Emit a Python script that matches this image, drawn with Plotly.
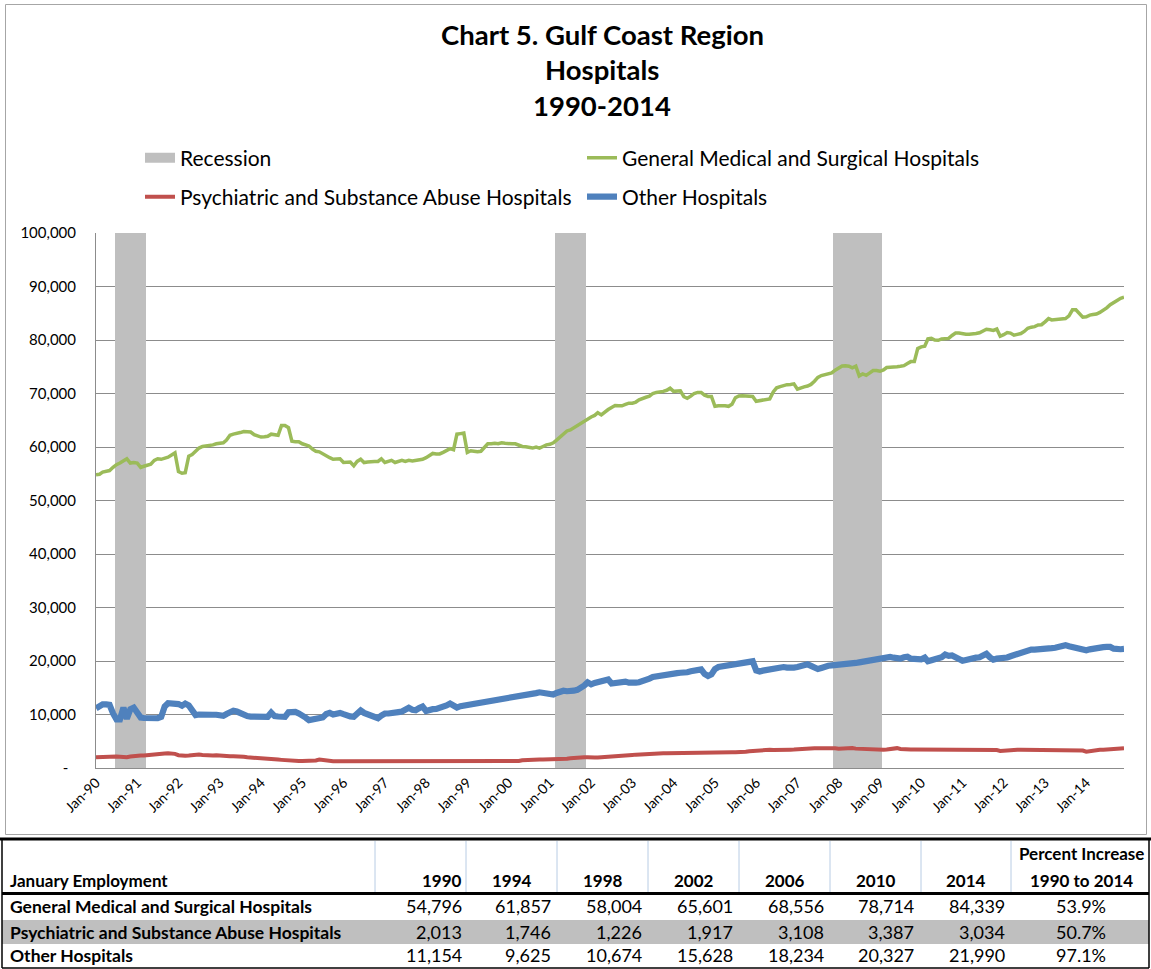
import pandas as pd
import plotly.graph_objects as go

W, H = 1151, 969

# ---------------- data ----------------
MONTHS = pd.date_range('1990-01-01', '2014-12-01', freq='MS')

GENERAL = [
    54796, 54900, 55300, 55400, 55600, 56200, 56700, 57000, 57400, 57800, 57000, 57100,  # 1990
    57000, 56200, 56400, 56600, 56800, 57500, 57800, 57700, 57900, 58100, 58500, 58900,  # 1991
    55400, 55100, 55200, 58300, 58600, 59200, 59800, 60100, 60200, 60200, 60400, 60600,  # 1992
    60700, 60800, 61300, 62200, 62400, 62500, 62700, 62900, 62900, 62800, 62300, 62100,  # 1993
    61857, 61900, 62000, 62400, 62300, 62200, 64000, 64000, 63600, 61100, 61000, 61000,  # 1994
    60600, 60300, 60200, 59600, 59200, 59100, 58700, 58300, 58000, 57700, 57800, 57800,  # 1995
    57100, 57100, 57200, 56500, 57300, 57700, 57100, 57200, 57300, 57300, 57300, 57800,  # 1996
    57100, 57400, 57500, 57100, 57300, 57500, 57300, 57500, 57400, 57500, 57500, 57700,  # 1997
    58004, 58400, 58800, 58700, 58700, 59000, 59300, 59700, 59500, 62400, 62500, 62600,  # 1998
    59000, 59300, 59200, 59100, 59200, 60000, 60600, 60600, 60700, 60600, 60800, 60700,  # 1999
    60600, 60600, 60600, 60300, 60100, 60050, 60000, 59800, 60000, 59800, 60100, 60400,  # 2000
    60500, 60800, 61300, 61900, 62500, 63000, 63200, 63600, 64000, 64400, 64900, 65300,  # 2001
    65601, 65900, 66400, 66000, 66600, 67000, 67400, 67750, 67700, 67700, 67950, 68200,  # 2002
    68200, 68400, 68800, 69100, 69300, 69500, 70000, 70200, 70250, 70400, 70600, 71000,  # 2003
    70400, 70400, 70500, 69400, 69100, 69500, 70000, 70200, 70200, 69700, 69450, 69450,  # 2004
    67600, 67700, 67770, 67700, 67600, 68000, 69200, 69550, 69600, 69550, 69450, 69450,  # 2005
    68556, 68700, 68880, 68950, 69000, 70300, 71060, 71300, 71550, 71650, 71700, 71800,  # 2006
    70800, 71100, 71250, 71400, 71700, 72300, 73000, 73350, 73500, 73700, 73850, 74350,  # 2007
    74800, 75150, 75200, 75100, 74800, 75100, 73300, 73670, 73400, 73800, 74300, 74300,  # 2008
    74150, 74400, 74850, 74900, 74900, 75000, 75080, 75200, 75600, 75960, 75960, 78400,  # 2009
    78714, 78850, 80200, 80300, 80000, 79950, 80190, 80190, 80300, 80850, 81300, 81300,  # 2010
    81100, 81060, 81060, 81060, 81200, 81350, 81600, 82000, 81900, 81800, 82050, 80700,  # 2011
    81000, 81400, 81300, 80900, 81050, 81200, 81600, 82200, 82400, 82500, 82800, 82860,  # 2012
    83400, 84000, 83750, 83780, 83790, 83820, 84000, 84500, 85650, 85650, 85000, 84250,  # 2013
    84339, 84660, 84750, 84850, 85150, 85500, 86000, 86600, 87100, 87400, 87800, 88000,  # 2014
]

PSYCH = [
    2013, 2050, 2100, 2140, 2140, 2140, 2140, 2100, 2050, 2010, 2150, 2250,  # 1990
    2300, 2320, 2350, 2380, 2400, 2450, 2550, 2640, 2700, 2770, 2750, 2640,  # 1991
    2400, 2260, 2300, 2330, 2400, 2520, 2500, 2450, 2400, 2260, 2350, 2390,  # 1992
    2300, 2200, 2200, 2200, 2200, 2200, 2200, 2100, 2010, 1980, 1950, 1900,  # 1993
    1746, 1760, 1760, 1700, 1620, 1570, 1520, 1450, 1380, 1340, 1320, 1320,  # 1994
    1320, 1320, 1320, 1320, 1400, 1570, 1450, 1350, 1260, 1260, 1260, 1260,  # 1995
    1260, 1260, 1260, 1260, 1260, 1260, 1260, 1260, 1260, 1260, 1260, 1260,  # 1996
    1250, 1250, 1250, 1250, 1250, 1250, 1250, 1250, 1250, 1250, 1250, 1250,  # 1997
    1226, 1230, 1240, 1240, 1240, 1240, 1250, 1250, 1250, 1250, 1250, 1250,  # 1998
    1250, 1250, 1250, 1250, 1250, 1250, 1250, 1250, 1250, 1250, 1250, 1250,  # 1999
    1260, 1260, 1270, 1300, 1450, 1510, 1540, 1560, 1570, 1570, 1570, 1570,  # 2000
    1570, 1570, 1570, 1580, 1650, 1720, 1820, 1900, 1950, 2010, 2010, 2000,  # 2001
    1917, 1950, 1980, 2010, 2050, 2080, 2120, 2160, 2200, 2260, 2320, 2400,  # 2002
    2450, 2500, 2550, 2600, 2640, 2680, 2700, 2720, 2740, 2760, 2770, 2770,  # 2003
    2780, 2790, 2800, 2810, 2820, 2830, 2840, 2850, 2860, 2870, 2890, 2850,  # 2004
    2900, 2890, 2870, 2890, 2920, 2950, 2960, 2960, 2980, 3050, 3150, 3220,  # 2005
    3108, 3300, 3350, 3400, 3400, 3350, 3330, 3350, 3400, 3420, 3430, 3440,  # 2006
    3450, 3460, 3480, 3550, 3620, 3680, 3710, 3740, 3770, 3770, 3770, 3700,  # 2007
    3600, 3650, 3720, 3770, 3720, 3620, 3590, 3590, 3560, 3500, 3400, 3300,  # 2008
    3330, 3400, 3450, 3550, 3650, 3710, 3550, 3460, 3460, 3460, 3460, 3460,  # 2009
    3387, 3420, 3420, 3420, 3420, 3420, 3420, 3420, 3420, 3420, 3420, 3420,  # 2010
    3420, 3420, 3420, 3420, 3420, 3420, 3420, 3420, 3420, 3420, 3350, 3200,  # 2011
    3250, 3420, 3420, 3420, 3420, 3420, 3420, 3420, 3420, 3420, 3420, 3420,  # 2012
    3420, 3420, 3420, 3420, 3420, 3420, 3420, 3420, 3420, 3420, 3350, 3250,  # 2013
    3034, 3150, 3300, 3400, 3420, 3430, 3440, 3450, 3500, 3580, 3650, 3700,  # 2014
]

OTHER = [
    11154, 11600, 11900, 11900, 11800, 10200, 9100, 9100, 11300, 9200, 11000, 11300,  # 1990
    10200, 9430, 9350, 9300, 9300, 9300, 9300, 9550, 11500, 12100, 12140, 12050,  # 1991
    11950, 11640, 12050, 11700, 10800, 9900, 10000, 10060, 10000, 9950, 9950, 9950,  # 1992
    9900, 9750, 10100, 10500, 10700, 10550, 10200, 9900, 9700, 9600, 9580, 9560,  # 1993
    9625, 9560, 9560, 10350, 9700, 9620, 9620, 9550, 10400, 10500, 10500, 10200,  # 1994
    9900, 9400, 8950, 9100, 9300, 9300, 9450, 10100, 10300, 10000, 10200, 10300,  # 1995
    10060, 9750, 9650, 9560, 10100, 10750, 10300, 10100, 9950, 9700, 9300, 9800,  # 1996
    10190, 10190, 10200, 10300, 10450, 10550, 10800, 11250, 10900, 10800, 11200, 11500,  # 1997
    10674, 11000, 11000, 11050, 11200, 11400, 11700, 12050, 11500, 11300, 11550, 11650,  # 1998
    11750, 11820, 11900, 12000, 12150, 12250, 12350, 12500, 12700, 12800, 12900, 12980,  # 1999
    13020, 13100, 13250, 13450, 13550, 13620, 13750, 13900, 14000, 14150, 14050, 13960,  # 2000
    13750, 13750, 14020, 14250, 14450, 14350, 14300, 14450, 14600, 14850, 15400, 16000,  # 2001
    15628, 15900, 16100, 16300, 16450, 16550, 15800, 15950, 16040, 16120, 16150, 15950,  # 2002
    15850, 15950, 16040, 16200, 16350, 16700, 17000, 17150, 17300, 17380, 17420, 17550,  # 2003
    17620, 17740, 17800, 17740, 17900, 18080, 18200, 18300, 18430, 17610, 17200, 17500,  # 2004
    18500, 18880, 18980, 19080, 19250, 19450, 19600, 19720, 19860, 19900, 19930, 19940,  # 2005
    18234, 18050, 18200, 18360, 18460, 18550, 18700, 18870, 18870, 18780, 18680, 18780,  # 2006
    18870, 18950, 19050, 19370, 19100, 18800, 18500, 18700, 19030, 19120, 19190, 19220,  # 2007
    19270, 19340, 19400, 19470, 19550, 19640, 19750, 19880, 20000, 20100, 20230, 20380,  # 2008
    20500, 20600, 20680, 20750, 20620, 20450, 20440, 20700, 20800, 20440, 20440, 20440,  # 2009
    20327, 20630, 19950, 20150, 20280, 20320, 20700, 21200, 20950, 21050, 20700, 20250,  # 2010
    20050, 20200, 20400, 20520, 20620, 20700, 20900, 21350, 20700, 20250, 20440, 20440,  # 2011
    20440, 20650, 20880, 21100, 21400, 21600, 21850, 22080, 22140, 22140, 22140, 22140,  # 2012
    22250, 22320, 22400, 22480, 22600, 22750, 22960, 22750, 22600, 22520, 22200, 22010,  # 2013
    21990, 22180, 22330, 22450, 22520, 22600, 22640, 22640, 22300, 22150, 22200, 22250,  # 2014
]

RECESSION_START = ['1990-07-01', '2001-03-01', '2007-12-01']
RECESSION_END = ['1991-03-01', '2001-11-01', '2009-01-01']
RECESSION_HEIGHT = 100000

Y_TICKS = [0, 10000, 20000, 30000, 40000, 50000, 60000, 70000, 80000, 90000, 100000]
Y_TICK_TEXT = ['-\u00a0\u00a0', '10,000', '20,000', '30,000', '40,000', '50,000',
               '60,000', '70,000', '80,000', '90,000', '100,000']
X_TICKS = pd.date_range('1990-01-01', '2014-01-01', freq='YS')

SERIES_NAMES = ['General Medical and Surgical Hospitals',
                'Psychiatric and Substance Abuse Hospitals',
                'Other Hospitals']

TABLE_YEARS = ['1990', '1994', '1998', '2002', '2006', '2010', '2014']
TABLE_GENERAL = [54796, 61857, 58004, 65601, 68556, 78714, 84339]
TABLE_PSYCH = [2013, 1746, 1226, 1917, 3108, 3387, 3034]
TABLE_OTHER = [11154, 9625, 10674, 15628, 18234, 20327, 21990]
TABLE_PCT = ['53.9%', '50.7%', '97.1%']

# ---------------- styling ----------------
FONT = 'Lato'
GREEN, RED, BLUE, GREY = '#9BBB59', '#C0504D', '#4F81BD', '#BFBFBF'
GRID = '#8C8C8C'


def px(x):
    return x / W


def py(y):
    return 1 - y / H


fig = go.Figure()

# recession bars
rec_x = []
for s, e in zip(RECESSION_START, RECESSION_END):
    rec_x.extend(pd.date_range(s, e, freq='MS'))
fig.add_trace(go.Bar(
    x=rec_x, y=[RECESSION_HEIGHT] * len(rec_x),
    width=[31 * 24 * 3600 * 1000] * len(rec_x),
    marker=dict(color=GREY, line=dict(width=0)),
    showlegend=False, hoverinfo='skip'))

colors = [GREEN, RED, BLUE]
widths = [3.5, 4.0, 6.2]
for name, vals, c, w in zip(SERIES_NAMES, [GENERAL, PSYCH, OTHER], colors, widths):
    fig.add_trace(go.Scatter(x=MONTHS, y=vals, mode='lines', name=name,
                             line=dict(color=c, width=w), showlegend=False))

# legend entries (dummy traces), four legends positioned like the source
legend_specs = [
    ('Recession', GREY, 16, 'legend'),
    (SERIES_NAMES[0], GREEN, 3.5, 'legend2'),
    (SERIES_NAMES[1], RED, 4.0, 'legend3'),
    (SERIES_NAMES[2], BLUE, 6.2, 'legend4'),
]
for name, c, w, lg in legend_specs:
    fig.add_trace(go.Scatter(x=[None], y=[None], mode='lines', name=name,
                             line=dict(color=c, width=w), legend=lg, showlegend=True))

leg_common = dict(orientation='h', xanchor='left', yanchor='middle',
                  xref='container', yref='container',
                  font=dict(family=FONT, size=21, color='#000000'),
                  bgcolor='rgba(0,0,0,0)', borderwidth=0)
legend_pos = {
    'legend': (140, 158), 'legend2': (582, 158),
    'legend3': (140, 197), 'legend4': (582, 197),
}

layout_legends = {k: dict(x=px(v[0]), y=py(v[1]), **leg_common) for k, v in legend_pos.items()}

# title
annotations = []
for text, yc in [('Chart 5. Gulf Coast Region', 34), ('Hospitals', 70), ('1990-2014', 105)]:
    annotations.append(dict(text='<b>' + text + '</b>', x=px(602), y=py(yc), xref='paper', yref='paper',
                            xanchor='center', yanchor='middle', showarrow=False,
                            font=dict(family=FONT, size=27.5, color='#000000')))

# ---------------- table (annotations + shapes) ----------------
TFONT = 18
col_right = [464, 553, 644, 735, 826, 916, 1007]
col_center = [420, 511.5, 602.5, 693.5, 784.5, 875.5, 966]
pct_center = 1081
row_y_head1, row_y_head2 = 853, 880
row_ys = [906, 932, 955]


def ann(text, x, y, anchor, bold=False, size=TFONT):
    t = '<b>' + text + '</b>' if bold else text
    return dict(text=t, x=px(x), y=py(y), xref='paper', yref='paper', xanchor=anchor,
                yanchor='middle', showarrow=False, font=dict(family=FONT, size=size, color='#000000'))


annotations.append(ann('Percent Increase', pct_center, row_y_head1, 'center', True, 17))
annotations.append(ann('January Employment', 8, row_y_head2, 'left', True, 17))
for i, yr in enumerate(TABLE_YEARS):
    if i == 0:
        annotations.append(ann(yr, col_right[i], row_y_head2, 'right', True, 17))
    else:
        annotations.append(ann(yr, col_center[i], row_y_head2, 'center', True, 17))
annotations.append(ann('1990 to 2014', pct_center, row_y_head2, 'center', True, 17))

for name, vals, pct, yr in zip(SERIES_NAMES, [TABLE_GENERAL, TABLE_PSYCH, TABLE_OTHER], TABLE_PCT, row_ys):
    annotations.append(ann(name, 8, yr, 'left', True, 17.5))
    for i, v in enumerate(vals):
        annotations.append(ann(f'{v:,}', col_right[i], yr, 'right'))
    annotations.append(ann(pct, pct_center, yr, 'center'))

shapes = []


def line_shape(x0, y0, x1, y1, color, width):
    return dict(type='line', xref='paper', yref='paper', x0=px(x0), y0=py(y0), x1=px(x1), y1=py(y1),
                line=dict(color=color, width=width), layer='above')


# chart frame
shapes.append(dict(type='rect', xref='paper', yref='paper', x0=px(5.5), y0=py(834.5), x1=px(1146.5),
                   y1=py(4.5), line=dict(color='#A6A6A6', width=1), fillcolor='rgba(0,0,0,0)', layer='below'))
# grey row
shapes.append(dict(type='rect', xref='paper', yref='paper', x0=px(2), y0=py(944), x1=px(1149), y1=py(920),
                   line=dict(width=0), fillcolor=GREY, layer='below'))
# header separators
for xs in [375, 466, 557, 648, 739, 830, 921, 1011]:
    shapes.append(line_shape(xs, 841, xs, 892, '#B8CCE4', 1))
# thick lines
shapes.append(line_shape(0, 839, W, 839, '#000000', 3))
shapes.append(line_shape(2, 893.5, 1149, 893.5, '#000000', 3))
# outer border
shapes.append(line_shape(2, 839, 2, 968, '#000000', 1.5))
shapes.append(line_shape(1149, 839, 1149, 968, '#000000', 1.5))
shapes.append(line_shape(2, 968, 1149, 968, '#000000', 1.5))

fig.update_layout(
    width=W, height=H, autosize=False,
    margin=dict(l=0, r=0, t=0, b=0, pad=0, autoexpand=False),
    paper_bgcolor='#FFFFFF', plot_bgcolor='#FFFFFF',
    bargap=0, barmode='overlay',
    annotations=annotations, shapes=shapes,
    xaxis=dict(type='date', domain=[px(96), px(1124)],
               range=[MONTHS[0], MONTHS[-1]],
               tickvals=list(X_TICKS), tickformat='%b-%y', tickangle=-45,
               tickfont=dict(family=FONT, size=14, color='#000000'),
               showgrid=False, zeroline=False, showline=True, linecolor=GRID, linewidth=1,
               ticks='', fixedrange=True, automargin=False),
    yaxis=dict(domain=[py(768), py(233)], range=[0, 100000],
               tickvals=Y_TICKS, ticktext=Y_TICK_TEXT,
               tickfont=dict(family=FONT, size=15, color='#000000'),
               showgrid=True, gridcolor=GRID, gridwidth=1, zeroline=False,
               showline=True, linecolor=GRID, linewidth=1, ticks='', ticklabelstandoff=16,
               fixedrange=True, automargin=False),
    showlegend=True,
    **layout_legends,
)

fig.write_html('out.html', config={'displayModeBar': False},
               post_script="document.body.style.margin='0';document.body.style.overflow='hidden';")
